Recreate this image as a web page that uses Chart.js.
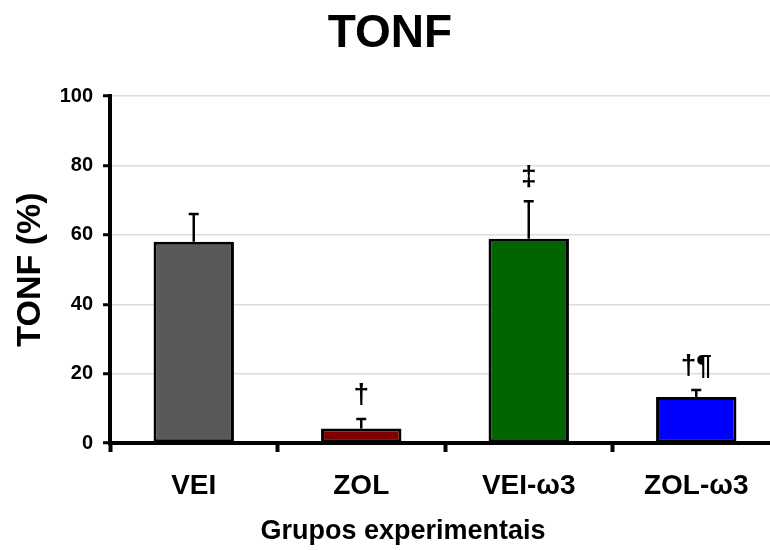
<!DOCTYPE html>
<html><head><meta charset="utf-8">
<script src="https://cdn.jsdelivr.net/npm/chart.js@4/dist/chart.umd.min.js"></script>
<style>html,body{margin:0;padding:0;overflow:hidden;background:#fff}</style>
</head><body>
<canvas id="c" width="780" height="550"></canvas>
<script>
const categories = ['VEI', 'ZOL', 'VEI-ω3', 'ZOL-ω3'];
const values = [58.0, 4.2, 58.9, 13.3];
const errors = [8.0, 2.7, 10.8, 2.0];
const marks = ['', '†', '‡', '†¶'];
const colors = ['#595959', '#800000', '#006400', '#0000ff'];
const yTicks = [0, 20, 40, 60, 80, 100];
const xTitle = 'Grupos experimentais';
const FONT = "'Liberation Sans', Arial, sans-serif";

const errorBars = {
  id: 'errorBars',
  afterDatasetsDraw(chart) {
    const ctx = chart.ctx, y = chart.scales.y;
    const meta = chart.getDatasetMeta(0);
    ctx.save();
    meta.data.forEach((bar, i) => {
      const top = y.getPixelForValue(values[i] + errors[i]);
      const base = y.getPixelForValue(values[i]);
      ctx.strokeStyle = '#000';
      ctx.lineWidth = 2.5;
      ctx.beginPath();
      ctx.moveTo(bar.x, base); ctx.lineTo(bar.x, top);
      ctx.moveTo(bar.x - 5, top); ctx.lineTo(bar.x + 5, top);
      ctx.stroke();
      if (marks[i]) {
        ctx.fillStyle = '#000';
        ctx.font = 'bold 28px ' + FONT;
        ctx.textAlign = 'center';
        ctx.textBaseline = 'middle';
        ctx.fillText(marks[i], bar.x, top - 24);
      }
    });
    ctx.restore();
  },
  afterDraw(chart) {
    const ctx = chart.ctx;
    ctx.save();
    ctx.fillStyle = '#000';
    ctx.font = 'bold 27px ' + FONT;
    ctx.textAlign = 'center';
    ctx.textBaseline = 'middle';
    ctx.fillText(xTitle, 403, 532);
    ctx.restore();
  }
};

new Chart(document.getElementById('c'), {
  type: 'bar',
  data: {
    labels: categories,
    datasets: [{
      data: values,
      backgroundColor: colors,
      borderColor: '#000',
      borderWidth: 3,
      borderSkipped: false,
      barPercentage: 0.48,
      categoryPercentage: 1.0
    }]
  },
  options: {
    responsive: false,
    animation: false,
    layout: { padding: { left: 0, right: 0, top: 0, bottom: 34.4 } },
    plugins: {
      legend: { display: false },
      tooltip: { enabled: false },
      title: {
        display: true, text: 'TONF', color: '#000',
        font: { family: FONT, size: 46, weight: 'bold' },
        padding: { top: 7, bottom: 34 }
      }
    },
    scales: {
      x: {
        afterFit(s) { s.height = 72.6; },
        grid: { offset: true, drawOnChartArea: false, drawTicks: true, tickLength: 9, tickWidth: 4, tickColor: '#000' },
        border: { color: '#000', width: 4 },
        ticks: { color: '#000', font: { family: FONT, size: 28, weight: 'bold' }, padding: 17 }
      },
      y: {
        min: 0, max: 100,
        afterFit(s) { s.width = 110; },
        afterBuildTicks(s) { s.ticks = yTicks.map(v => ({ value: v })); },
        grid: { color: '#dddddd', lineWidth: 1.5, tickLength: 7, tickWidth: 3, tickColor: '#000' },
        border: { color: '#000', width: 4 },
        ticks: { color: '#000', font: { family: FONT, size: 20, weight: 'bold' }, padding: 10 },
        title: {
          display: true, text: 'TONF (%)', color: '#000',
          font: { family: FONT, size: 34, weight: 'bold' },
          padding: { top: 10, bottom: 0 }
        }
      }
    }
  },
  plugins: [errorBars]
});
</script>
</body></html>
